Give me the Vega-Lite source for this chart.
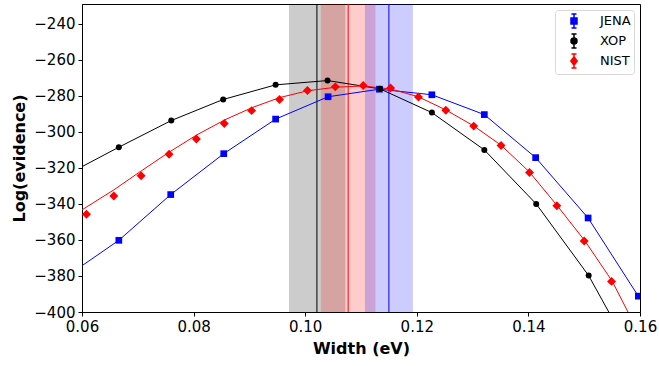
{
  "$schema": "https://vega.github.io/schema/vega-lite/v6.json",
  "width": 558,
  "height": 308,
  "autosize": {"type": "none"},
  "padding": {"left": 82, "top": 4, "right": 19, "bottom": 54},
  "config": {
    "font": "DejaVu Sans",
    "view": {"stroke": "black", "strokeWidth": 1},
    "axis": {
      "domainColor": "black", "domainWidth": 1, "tickColor": "black", "tickWidth": 1,
      "labelColor": "black", "titleColor": "black", "grid": false, "tickSize": 4,
      "labelFontSize": 15, "titleFontSize": 16, "titleFontWeight": "bold",
      "labelFont": "DejaVu Sans", "titleFont": "DejaVu Sans", "labelPadding": 3,
      "labelOverlap": false, "labelFlush": false
    },
    "legend": {
      "orient": "top-right", "offset": 6, "padding": 3, "fillColor": "white",
      "strokeColor": "#d8d8d8", "cornerRadius": 3, "labelFontSize": 13,
      "labelColor": "black", "labelFont": "DejaVu Sans",
      "symbolSize": 196, "symbolOpacity": 1, "symbolStrokeWidth": 1.5,
      "rowPadding": 0, "labelOffset": 18, "symbolOffset": 8
    }
  },
  "datasets": {
    "bands": [
      {"series": "XOP", "lo": 0.0971, "hi": 0.1072, "center": 0.1021},
      {"series": "NIST", "lo": 0.1028, "hi": 0.1126, "center": 0.1077},
      {"series": "JENA", "lo": 0.1107, "hi": 0.1193, "center": 0.1150}
    ],
    "fit": [
      {"series": "JENA", "x": 0.06, "y": -374.3},
      {"series": "JENA", "x": 0.0666, "y": -360.2},
      {"series": "JENA", "x": 0.0759, "y": -334.8},
      {"series": "JENA", "x": 0.0854, "y": -312.1},
      {"series": "JENA", "x": 0.0947, "y": -292.9},
      {"series": "JENA", "x": 0.1041, "y": -280.5},
      {"series": "JENA", "x": 0.1133, "y": -276.3},
      {"series": "JENA", "x": 0.1227, "y": -279.4},
      {"series": "JENA", "x": 0.1321, "y": -290.4},
      {"series": "JENA", "x": 0.1413, "y": -314.3},
      {"series": "JENA", "x": 0.1507, "y": -347.8},
      {"series": "JENA", "x": 0.1597, "y": -391.2},
      {"series": "XOP", "x": 0.06, "y": -319.3},
      {"series": "XOP", "x": 0.0666, "y": -308.5},
      {"series": "XOP", "x": 0.076, "y": -293.7},
      {"series": "XOP", "x": 0.0853, "y": -282.0},
      {"series": "XOP", "x": 0.0947, "y": -273.9},
      {"series": "XOP", "x": 0.104, "y": -271.5},
      {"series": "XOP", "x": 0.1134, "y": -276.1},
      {"series": "XOP", "x": 0.1227, "y": -289.3},
      {"series": "XOP", "x": 0.1321, "y": -310.0},
      {"series": "XOP", "x": 0.1414, "y": -340.0},
      {"series": "XOP", "x": 0.1508, "y": -379.8},
      {"series": "XOP", "x": 0.16, "y": -431.4},
      {"series": "NIST", "x": 0.06, "y": -343.3},
      {"series": "NIST", "x": 0.0657, "y": -332.2},
      {"series": "NIST", "x": 0.0707, "y": -321.5},
      {"series": "NIST", "x": 0.0756, "y": -311.3},
      {"series": "NIST", "x": 0.0805, "y": -301.8},
      {"series": "NIST", "x": 0.0856, "y": -293.3},
      {"series": "NIST", "x": 0.0905, "y": -286.5},
      {"series": "NIST", "x": 0.0955, "y": -280.9},
      {"series": "NIST", "x": 0.1004, "y": -277.2},
      {"series": "NIST", "x": 0.1055, "y": -275.2},
      {"series": "NIST", "x": 0.1104, "y": -274.5},
      {"series": "NIST", "x": 0.1153, "y": -276.2},
      {"series": "NIST", "x": 0.1202, "y": -280.4},
      {"series": "NIST", "x": 0.1252, "y": -287.8},
      {"series": "NIST", "x": 0.1302, "y": -296.7},
      {"series": "NIST", "x": 0.1351, "y": -307.4},
      {"series": "NIST", "x": 0.1401, "y": -322.0},
      {"series": "NIST", "x": 0.1451, "y": -340.7},
      {"series": "NIST", "x": 0.1501, "y": -360.4},
      {"series": "NIST", "x": 0.155, "y": -382.8},
      {"series": "NIST", "x": 0.16, "y": -413.0}
    ],
    "pts": [
      {"series": "JENA", "x": 0.0666, "y": -360.2},
      {"series": "JENA", "x": 0.0759, "y": -334.8},
      {"series": "JENA", "x": 0.0854, "y": -312.1},
      {"series": "JENA", "x": 0.0947, "y": -292.9},
      {"series": "JENA", "x": 0.1041, "y": -280.5},
      {"series": "JENA", "x": 0.1133, "y": -276.3},
      {"series": "JENA", "x": 0.1227, "y": -279.4},
      {"series": "JENA", "x": 0.1321, "y": -290.4},
      {"series": "JENA", "x": 0.1413, "y": -314.3},
      {"series": "JENA", "x": 0.1507, "y": -347.8},
      {"series": "JENA", "x": 0.1597, "y": -391.2},
      {"series": "XOP", "x": 0.0666, "y": -308.5},
      {"series": "XOP", "x": 0.076, "y": -293.7},
      {"series": "XOP", "x": 0.0853, "y": -282.0},
      {"series": "XOP", "x": 0.0947, "y": -273.9},
      {"series": "XOP", "x": 0.104, "y": -271.5},
      {"series": "XOP", "x": 0.1134, "y": -276.1},
      {"series": "XOP", "x": 0.1227, "y": -289.3},
      {"series": "XOP", "x": 0.1321, "y": -310.0},
      {"series": "XOP", "x": 0.1414, "y": -340.0},
      {"series": "XOP", "x": 0.1508, "y": -379.8},
      {"series": "NIST", "x": 0.0608, "y": -345.7},
      {"series": "NIST", "x": 0.0657, "y": -335.6},
      {"series": "NIST", "x": 0.0706, "y": -324.4},
      {"series": "NIST", "x": 0.0756, "y": -312.4},
      {"series": "NIST", "x": 0.0805, "y": -303.9},
      {"series": "NIST", "x": 0.0855, "y": -295.3},
      {"series": "NIST", "x": 0.0904, "y": -288.2},
      {"series": "NIST", "x": 0.0954, "y": -282.0},
      {"series": "NIST", "x": 0.1004, "y": -277.0},
      {"series": "NIST", "x": 0.1054, "y": -275.0},
      {"series": "NIST", "x": 0.1104, "y": -274.2},
      {"series": "NIST", "x": 0.1153, "y": -275.6},
      {"series": "NIST", "x": 0.1203, "y": -280.6},
      {"series": "NIST", "x": 0.1252, "y": -288.0},
      {"series": "NIST", "x": 0.1302, "y": -296.8},
      {"series": "NIST", "x": 0.1351, "y": -307.6},
      {"series": "NIST", "x": 0.1402, "y": -322.6},
      {"series": "NIST", "x": 0.1451, "y": -341.0},
      {"series": "NIST", "x": 0.15, "y": -360.6},
      {"series": "NIST", "x": 0.1549, "y": -383.0}
    ]
  },
  "encoding": {
    "color": {
      "field": "series", "type": "nominal",
      "scale": {"domain": ["JENA", "XOP", "NIST"], "range": ["#0000ff", "#000000", "#ff0000"]},
      "legend": {
        "title": null,
        "encode": {
          "symbols": {
            "update": {
              "shape": {"signal": "datum.value === 'JENA' ? 'M0,-1V1M-0.36,-1H0.36M-0.36,1H0.36M-0.43,-0.43H0.43V0.43H-0.43Z' : datum.value === 'XOP' ? 'M0,-1V1M-0.36,-1H0.36M-0.36,1H0.36M0.43,0A0.43,0.43,0,1,1,-0.43,0A0.43,0.43,0,1,1,0.43,0Z' : 'M0,-1V1M-0.36,-1H0.36M-0.36,1H0.36M0,-0.6L0.45,0L0,0.6L-0.45,0Z'"},
              "stroke": {"signal": "datum.value === 'JENA' ? '#0000ff' : datum.value === 'XOP' ? '#000000' : '#ff0000'"},
              "fill": {"signal": "datum.value === 'JENA' ? '#0000ff' : datum.value === 'XOP' ? '#000000' : '#ff0000'"},
              "strokeWidth": {"value": 1.5},
              "strokeDash": {"value": []},
              "size": {"value": 196},
              "opacity": {"value": 1},
              "fillOpacity": {"value": 1},
              "strokeOpacity": {"value": 1}
            }
          }
        }
      }
    }
  },
  "layer": [
    {
      "data": {"name": "bands"},
      "mark": {"type": "rect", "opacity": 0.2},
      "encoding": {
        "x": {
          "field": "lo", "type": "quantitative",
          "scale": {"domain": [0.06, 0.16], "nice": false, "zero": false, "padding": 0},
          "axis": {"title": "Width (eV)", "values": [0.06, 0.08, 0.1, 0.12, 0.14, 0.16], "format": ".2f", "titlePadding": 6, "labelFlush": false, "labelOverlap": false}
        },
        "x2": {"field": "hi"}
      }
    },
    {
      "data": {"name": "bands"},
      "mark": {"type": "rule", "strokeWidth": 1},
      "encoding": {
        "x": {"field": "center", "type": "quantitative"}
      }
    },
    {
      "encoding": {
        "x": {"field": "x", "type": "quantitative"},
        "y": {
          "field": "y", "type": "quantitative",
          "scale": {"domain": [-400, -229], "nice": false, "zero": false, "padding": 0},
          "axis": {"title": "Log(evidence)", "values": [-400, -380, -360, -340, -320, -300, -280, -260, -240], "titlePadding": 6, "labelOverlap": false, "tickCount": 9}
        }
      },
      "layer": [
        {
          "data": {"name": "fit"},
          "mark": {"type": "line", "strokeWidth": 1, "clip": true}
        },
        {
          "data": {"name": "pts"},
          "transform": [{"filter": "datum.series === 'JENA'"}],
          "mark": {"type": "point", "shape": "square", "filled": true, "opacity": 1, "size": 45, "clip": true}
        },
        {
          "data": {"name": "pts"},
          "transform": [{"filter": "datum.series === 'XOP'"}],
          "mark": {"type": "point", "shape": "circle", "filled": true, "opacity": 1, "size": 36, "clip": true}
        },
        {
          "data": {"name": "pts"},
          "transform": [{"filter": "datum.series === 'NIST'"}],
          "mark": {"type": "point", "shape": "diamond", "filled": true, "opacity": 1, "size": 80, "clip": true}
        }
      ]
    }
  ]
}
